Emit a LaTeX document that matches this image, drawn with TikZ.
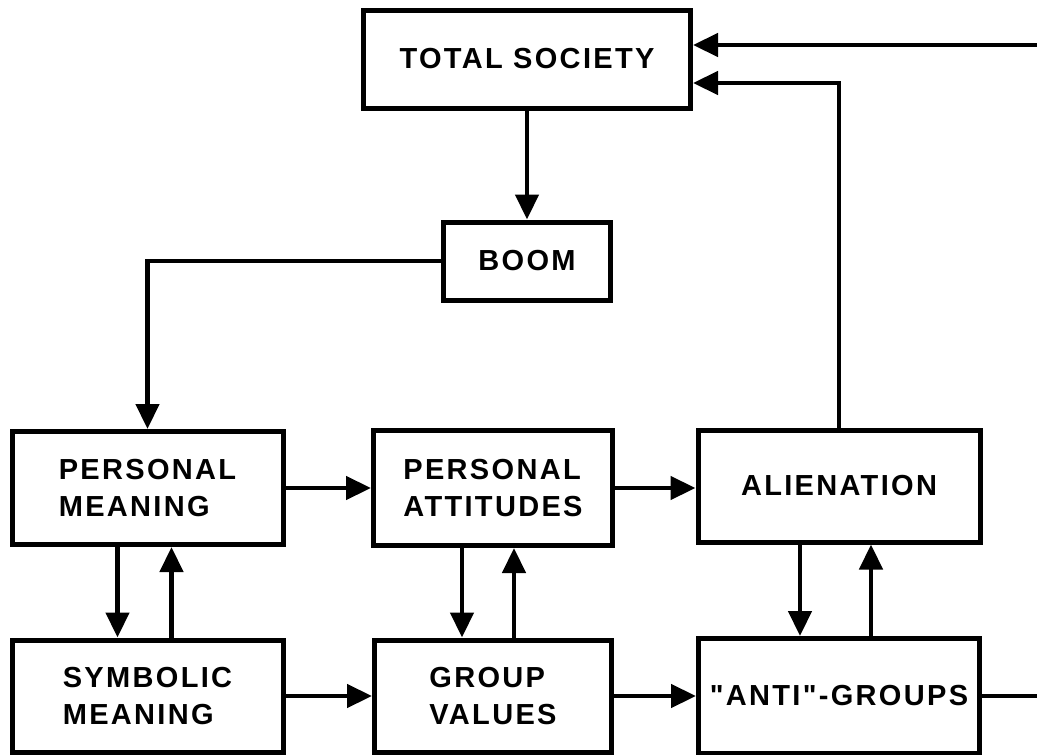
\documentclass[tikz,border=0pt]{standalone}
\usepackage{fontspec}
\newfontfamily\letterfont{Liberation Sans}[LetterSpace=8]
\usetikzlibrary{arrows.meta,positioning}
\tikzstyle{block} = [rectangle, draw=black, line width=5pt, inner sep=0pt, align=left, font=\letterfont\bfseries\fontsize{29}{37}\selectfont]
\tikzstyle{arrow} = [line width=4.5pt, -{Triangle[length=25pt,width=23pt]}]
\tikzstyle{line} = [line width=4.5pt]

\begin{document}
\begin{tikzpicture}[x=1pt, y=-1pt]
            \useasboundingbox (0,0) rectangle (1037,755);

            % Nodes
            \node (society) [block, minimum width=327pt, minimum height=98pt] at (527,59) {TOTAL SOCIETY};
            \node (boom) [block, minimum width=167pt, minimum height=78pt] at (527,261) {BOOM};
            \node (pmeaning) [block, minimum width=271pt, minimum height=113pt] at (147.5,488) {PERSONAL\\MEANING};
            \node (pattitudes) [block, minimum width=239pt, minimum height=115pt] at (493,488) {PERSONAL\\ATTITUDES};
            \node (alienation) [block, minimum width=282pt, minimum height=112pt] at (839,486) {ALIENATION};
            \node (smeaning) [block, minimum width=271pt, minimum height=112pt] at (147.5,696) {SYMBOLIC\\MEANING};
            \node (gvalues) [block, minimum width=237pt, minimum height=112pt] at (493,696) {GROUP\\VALUES};
            \node (antigroups) [block, minimum width=281pt, minimum height=115pt] at (839,696) {"ANTI"-GROUPS};
            \coordinate (inright) at (1045,45);
            \coordinate (outright) at (1045,696);

            % Arrows
            \draw [arrow] (society) -- (boom);
            \draw [arrow] (boom.west) -| (pmeaning.north);
            \draw [arrow] (pmeaning) -- (pattitudes);
            \draw [arrow] (pattitudes.east) -- (pattitudes.east -| alienation.west);
            \draw [arrow] (smeaning) -- (gvalues);
            \draw [arrow] (gvalues) -- (antigroups);
            \draw [arrow] ([xshift=-30pt]pmeaning.south) -- ([xshift=-30pt]smeaning.north);
            \draw [arrow] ([xshift=24pt]smeaning.north) -- ([xshift=24pt]pmeaning.south);
            \draw [arrow] ([xshift=-31pt]pattitudes.south) -- ([xshift=-31pt]gvalues.north);
            \draw [arrow] ([xshift=21pt]gvalues.north) -- ([xshift=21pt]pattitudes.south);
            \draw [arrow] ([xshift=-39pt]alienation.south) -- ([xshift=-39pt]antigroups.north);
            \draw [arrow] ([xshift=32pt]antigroups.north) -- ([xshift=32pt]alienation.south);
            \draw [arrow] (alienation.north) |- ([yshift=-24pt]society.east);
            \draw [arrow] (inright) -- ([yshift=14pt]society.east);
            \draw [line] (antigroups.east) -- (outright);
        \end{tikzpicture}
\end{document}
